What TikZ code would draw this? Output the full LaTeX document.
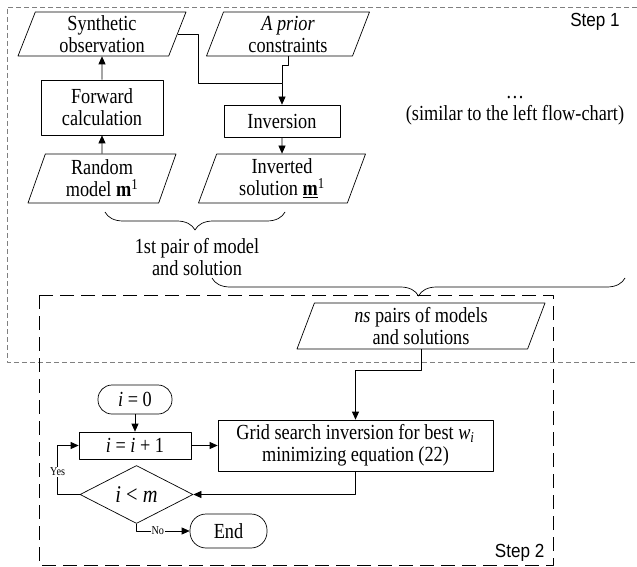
\documentclass[tikz,border=0pt]{standalone}
\usepackage{fontspec}
\setmainfont{Liberation Serif}[FakeStretch=0.85]
\newfontfamily\stepfont{Liberation Sans}[FakeStretch=0.9]
\usetikzlibrary{shapes.geometric,arrows.meta,decorations.pathreplacing}

\tikzset{
  box/.style={draw, rectangle, inner sep=0pt, align=center},
  data/.style={draw, trapezium, trapezium left angle=65, trapezium right angle=115,
    trapezium stretches body, inner sep=0pt, align=center},
  term/.style={draw, rectangle, rounded corners=14pt, inner sep=0pt},
  decision/.style={draw, diamond, inner sep=0pt},
  curly/.style={decorate, decoration={brace, mirror, amplitude=18pt}},
  steplabel/.style={font=\stepfont\fontsize{19}{20}\selectfont},
  small/.style={fill=white, inner sep=1pt, font=\fontsize{12}{12}\selectfont},
}

\begin{document}
\begin{tikzpicture}[x=1pt, y=-1pt, font=\fontsize{21.5}{22}\selectfont,
  line join=round, line width=0.7pt, >={Triangle[length=8pt,width=7pt]}]
\useasboundingbox (0,0) rectangle (637,567);

% step frames
\draw[gray, dash pattern=on 5pt off 3pt] (637,7) -- (7,7) -- (7,362) -- (637,362);
\draw[dash pattern=on 14pt off 7pt] (39,295) rectangle (553,565);
\node[steplabel] (s1) at (595,22) {Step 1};
\node[steplabel, anchor=east] (s2) at (548,553) {Step 2};

% step 1
\node[data, minimum width=168pt, minimum height=44pt] (syn) at (102,34) {Synthetic\\observation};
\node[data, minimum width=163pt, minimum height=44pt] (prior) at (288,34) {\textit{A prior}\\constraints};
\node[box, minimum width=122pt, minimum height=55pt] (fwd) at (102,107.5) {Forward\\calculation};
\node[box, minimum width=116pt, minimum height=32pt] (inv) at (282,121) {Inversion};
\node[data, minimum width=148pt, minimum height=49pt] (rnd) at (102,178.5) {Random\\model \textbf{m}\textsuperscript{1}};
\node[data, minimum width=167pt, minimum height=49pt] (sol) at (282,178.5) {Inverted\\solution \underline{\textbf{m}}\textsuperscript{1}};
\node[align=center] (pair1) at (197,257) {1st pair of model\\and solution};
\node[align=center] (more) at (515,111) {\ldots\\(similar to the left flow-chart)};

\coordinate (j1) at (282,83);
\draw[->] (rnd.north) -- (fwd.south);
\draw[->] (fwd.north) -- (syn.south);
\draw[->] (syn.east) -- ++(21,0) |- (j1) -- (inv.north);
\draw (prior.south) -- ++(0,9) -| (j1);
\draw[->] (inv.south) -- (sol.north);
\draw[curly] (105,212) -- (285,212);
\draw[curly] (212,278) -- (625,278);

% step 2
\node[data, minimum width=248pt, minimum height=46pt] (pairs) at (421,326) {\textit{ns} pairs of models\\and solutions};
\node[box, minimum width=275pt, minimum height=51pt] (grid) at (355.5,445.5) {Grid search inversion for best \textit{w}\textsubscript{\textit{i}}\\minimizing equation (22)};
\node[term, minimum width=74pt, minimum height=29pt] (start) at (135,399.5) {\textit{i} = 0};
\node[box, minimum width=112pt, minimum height=27pt] (inc) at (135,445.5) {\textit{i} = \textit{i} + 1};
\node[decision, minimum width=113pt, minimum height=45pt, font=\fontsize{24}{24}\selectfont] (cond) at (136.5,494.5) {\textit{i} < \textit{m}};
\node[term, rounded corners=16pt, minimum width=77pt, minimum height=34pt] (stop) at (228.5,531) {End};

\draw[->] (pairs.south) -- ++(0,21) -| (grid.north);
\draw[->] (start.south) -- (inc.north);
\draw[->] (inc.east) -- (grid.west);
\draw[->] (grid.south) |- (cond.east);
\draw[->] (cond.west) -- ++(-22,0) |- node[pos=0.23, small] {Yes} (inc.west);
\draw[->] (cond.south) |- node[pos=0.7, small] {No} (stop.west);
\end{tikzpicture}
\end{document}
